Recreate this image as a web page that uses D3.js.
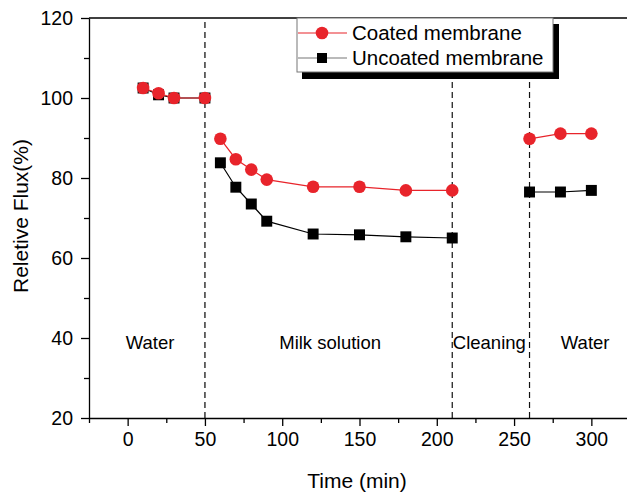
<!DOCTYPE html>
<html lang="en">
  <head>
    <meta charset="utf-8">
    <script src="https://cdnjs.cloudflare.com/ajax/libs/d3/7.8.5/d3.min.js"></script>
    <title>Relative flux vs time</title>
    <style>
      body { margin: 0; background: #fff; }
      svg { display: block; font-family: "Liberation Sans", Arial, Helvetica, sans-serif; }
      .axis path, .axis line { stroke: #000; stroke-width: 1.3; }
      .axis text { font-size: 19.5px; fill: #000; }
    </style>
  </head>
  <body>
    <script>

    // data
    var time = [10, 20, 30, 50, 60, 70, 80, 90, 120, 150, 180, 210, 260, 280, 300];
    var coated = [102.5, 101.2, 100, 100, 89.8, 84.7, 82.1, 79.6, 77.8, 77.8, 76.9, 76.9, 89.8, 91.1, 91.1];
    var uncoated = [102.5, 100.8, 100, 100, 83.8, 77.7, 73.5, 69.2, 66.0, 65.8, 65.3, 65.0, 76.5, 76.5, 76.9];
    // which stage each point belongs to (lines break between stages)
    var stage = [0, 0, 0, 0, 1, 1, 1, 1, 1, 1, 1, 1, 2, 2, 2];

    var xTicks = [0, 50, 100, 150, 200, 250, 300];
    var xMinor = [-25, 25, 75, 125, 175, 225, 275, 325];
    var yTicks = [20, 40, 60, 80, 100, 120];
    var yMinor = [30, 50, 70, 90, 110];

    var dividers = [50, 210, 260];
    var sectionNames = ["Water", "Milk solution", "Cleaning", "Water"];
    var sectionPos = [14.5, 131, 234, 296];

    var seriesNames = ["Coated membrane", "Uncoated membrane"];

    var width = 627, height = 493;
    var margin = {top: 18, left: 89, bottom: 75};

    var x = d3.scaleLinear().domain([-25, 325]).range([margin.left, 630]);
    var y = d3.scaleLinear().domain([20, 120]).range([height - margin.bottom, margin.top]);

    var svg = d3.select("body").append("svg")
        .attr("width", width)
        .attr("height", height);

    // stage dividers
    svg.selectAll(".divider")
        .data(dividers)
      .enter().append("line")
        .attr("class", "divider")
        .attr("x1", d => x(d)).attr("x2", d => x(d))
        .attr("y1", y(20)).attr("y2", y(120))
        .attr("stroke", function(d, i) { return i == 0 ? "#444" : "#111"; })
        .attr("stroke-width", function(d, i) { return i == 0 ? 1.6 : 1.2; })
        .attr("stroke-dasharray", "6,4");

    // axes
    svg.append("g")
        .attr("class", "axis")
        .attr("transform", "translate(0," + y(20) + ")")
        .call(d3.axisBottom(x).tickValues(xTicks).tickSize(8).tickPadding(6).tickSizeOuter(0));
    svg.append("g")
        .attr("class", "axis")
        .attr("transform", "translate(0," + y(20) + ")")
        .call(d3.axisBottom(x).tickValues(xMinor).tickSize(5).tickFormat("").tickSizeOuter(0))
        .select(".domain").remove();

    svg.append("g")
        .attr("class", "axis")
        .attr("transform", "translate(" + x(-25) + ",0)")
        .call(d3.axisLeft(y).tickValues(yTicks).tickSize(8).tickPadding(8).tickSizeOuter(0));
    svg.append("g")
        .attr("class", "axis")
        .attr("transform", "translate(" + x(-25) + ",0)")
        .call(d3.axisLeft(y).tickValues(yMinor).tickSize(5).tickFormat("").tickSizeOuter(0))
        .select(".domain").remove();

    // top frame line
    svg.append("line")
        .attr("x1", x(-25)).attr("x2", width)
        .attr("y1", y(120)).attr("y2", y(120))
        .attr("stroke", "#000").attr("stroke-width", 1.3);

    // axis titles
    svg.append("text")
        .attr("x", 357).attr("y", 488)
        .attr("text-anchor", "middle")
        .style("font-size", "21px")
        .text("Time (min)");

    svg.append("text")
        .attr("transform", "translate(28," + (y(70) - 2) + ") rotate(-90)")
        .attr("text-anchor", "middle")
        .style("font-size", "21px")
        .text("Reletive Flux(%)");

    // section labels
    svg.selectAll(".section")
        .data(sectionNames)
      .enter().append("text")
        .attr("class", "section")
        .attr("x", (d, i) => x(sectionPos[i]))
        .attr("y", y(40) + 11)
        .attr("text-anchor", "middle")
        .style("font-size", "18.5px")
        .text(d => d);

    function points(vals) {
      return time.map(function(t, i) { return {t: t, v: vals[i], s: stage[i]}; });
    }

    var line = d3.line().x(d => x(d.t)).y(d => y(d.v));

    function drawSeries(vals, color, shape) {
      var pts = points(vals);
      var groups = d3.groups(pts, d => d.s);
      svg.append("g").selectAll("path")
          .data(groups)
        .enter().append("path")
          .attr("d", d => line(d[1]))
          .attr("fill", "none")
          .attr("stroke", color)
          .attr("stroke-width", 1.2);

      var sym = d3.symbol().type(shape).size(shape == d3.symbolCircle ? 125 : 120);
      svg.append("g").selectAll("path")
          .data(pts)
        .enter().append("path")
          .attr("transform", d => "translate(" + x(d.t) + "," + y(d.v) + ")")
          .attr("d", sym)
          .attr("fill", color);
    }

    drawSeries(uncoated, "#000", d3.symbolSquare);
    drawSeries(coated, "#e8242b", d3.symbolCircle);

    // legend
    var lg = svg.append("g");
    lg.append("rect")
        .attr("x", 302).attr("y", 24)
        .attr("width", 257).attr("height", 55)
        .attr("fill", "#000");
    lg.append("rect")
        .attr("x", 297).attr("y", 18)
        .attr("width", 256).attr("height", 54)
        .attr("fill", "#fff")
        .attr("stroke", "#777")
        .attr("stroke-width", 1);

    var legendColors = ["#e8242b", "#777"];
    var markColors = ["#e8242b", "#000"];
    var legendShapes = [d3.symbolCircle, d3.symbolSquare];
    var rowY = [33, 58];

    seriesNames.forEach(function(name, i) {
      lg.append("line")
          .attr("x1", 298).attr("x2", 347)
          .attr("y1", rowY[i]).attr("y2", rowY[i])
          .attr("stroke", legendColors[i]).attr("stroke-width", 1.2);
      lg.append("path")
          .attr("transform", "translate(322," + rowY[i] + ")")
          .attr("d", d3.symbol().type(legendShapes[i]).size(i == 0 ? 125 : 100))
          .attr("fill", markColors[i]);
      lg.append("text")
          .attr("x", 352).attr("y", rowY[i] + 7)
          .style("font-size", "20.5px")
          .text(name);
    });

    </script>
  </body>
</html>
